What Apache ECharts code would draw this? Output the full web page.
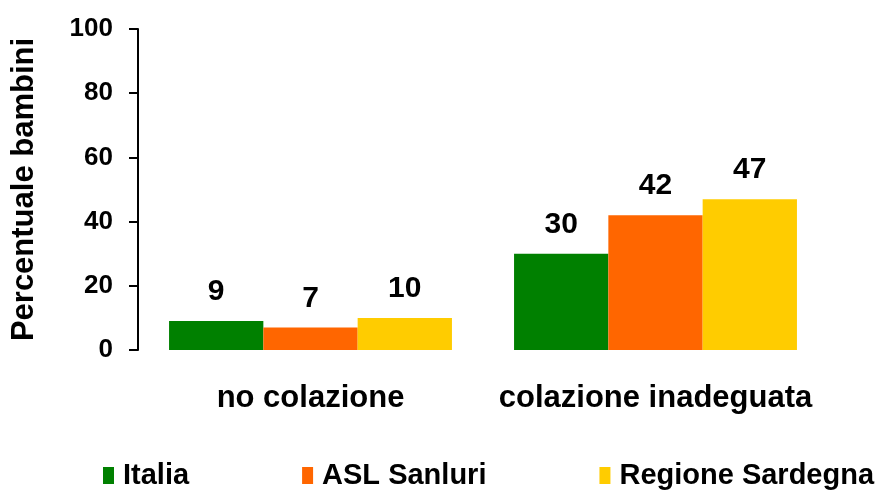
<!DOCTYPE html>
<html><head><meta charset="utf-8">
<script src="https://cdn.jsdelivr.net/npm/echarts@6/dist/echarts.min.js"></script>
<style>html,body{margin:0;padding:0;background:#fff}#c{width:883px;height:492px}</style>
</head><body><div id="c"></div>
<script>
const categories = ["no colazione", "colazione inadeguata"];
const seriesNames = ["Italia", "ASL Sanluri", "Regione Sardegna"];
const italia = [9, 30];
const aslSanluri = [7, 42];
const regioneSardegna = [10, 47];
const yTicks = [0, 20, 40, 60, 80, 100];
const colors = ["#008000", "#FF6600", "#FFCC00"];
const values = [italia, aslSanluri, regioneSardegna];
const font = "'Liberation Sans', Arial, sans-serif";

const chart = echarts.init(document.getElementById('c'), null, {renderer: 'canvas'});
chart.setOption({
  animation: false,
  backgroundColor: '#fff',
  grid: {left: 138, right: 55, top: 29, bottom: 142, containLabel: false},
  legend: {
    data: seriesNames,
    left: 98, top: 456,
    itemWidth: 11, itemHeight: 17, itemGap: 113,
    icon: 'rect',
    textStyle: {fontFamily: font, fontWeight: 'bold', fontSize: 29, color: '#000', padding: [0,0,0,4]}
  },
  xAxis: {
    type: 'category', data: categories,
    axisLine: {show: false}, axisTick: {show: false},
    axisLabel: {interval: 0, fontFamily: font, fontWeight: 'bold', fontSize: 31, color: '#000', margin: 33}
  },
  yAxis: {
    type: 'value', min: yTicks[0], max: yTicks[yTicks.length-1], interval: 20,
    name: 'Percentuale bambini', nameLocation: 'middle', nameGap: 98, nameRotate: 90,
    nameTextStyle: {fontFamily: font, fontWeight: 'bold', fontSize: 31, color: '#000'},
    axisLine: {show: true, lineStyle: {color: '#000', width: 2}},
    axisTick: {show: true, length: 9, lineStyle: {color: '#000', width: 2}},
    splitLine: {show: false},
    axisLabel: {fontFamily: font, fontWeight: 'bold', fontSize: 26, color: '#000', margin: 25}
  },
  series: seriesNames.map((n, i) => ({
    name: n, type: 'bar', data: values[i],
    barGap: '0%', barCategoryGap: '18%',
    itemStyle: {color: colors[i]},
    label: {show: true, position: 'top', distance: 14, fontFamily: font, fontWeight: 'bold', fontSize: 30, color: '#000'}
  }))
});
</script></body></html>
